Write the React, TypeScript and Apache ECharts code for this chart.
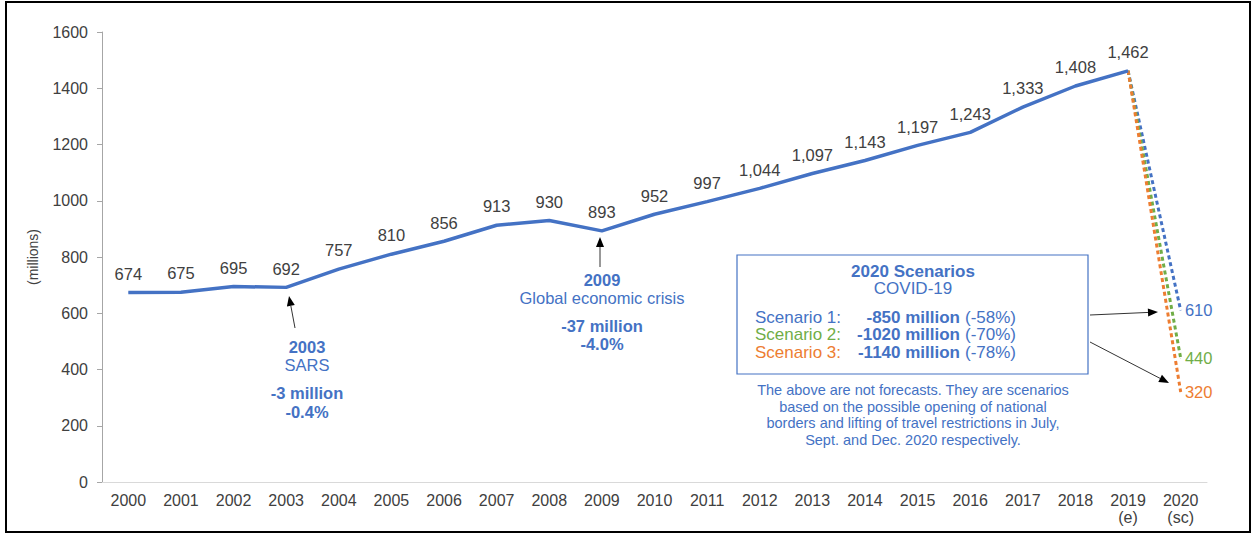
import React, { useEffect, useRef } from "react";
import * as echarts from "echarts";

const categories = ["2000","2001","2002","2003","2004","2005","2006","2007","2008","2009","2010","2011","2012","2013","2014","2015","2016","2017","2018","2019\n(e)","2020\n(sc)"];
const arrivals = [674,675,695,692,757,810,856,913,930,893,952,997,1044,1097,1143,1197,1243,1333,1408,1462];
const scenarioNames = ["Scenario 1", "Scenario 2", "Scenario 3"];
const scenarioValues = [610, 440, 320];
const scenarioColors = ["#4472C4", "#70AD47", "#ED7D31"];
const scenarioChange = ["-850 million", "-1020 million", "-1140 million"];
const scenarioPct = ["(-58%)", "(-70%)", "(-78%)"];
const yTicks = { min: 0, max: 1600, interval: 200 };

const BLUE = "#4472C4";
const FONT = "Liberation Sans, Arial, sans-serif";
const GREY = "#404040";

function arrow(x1: number, y1: number, x2: number, y2: number, headLen = 10, headW = 4) {
  const dx = x2 - x1, dy = y2 - y1;
  const len = Math.sqrt(dx * dx + dy * dy);
  const ux = dx / len, uy = dy / len;
  const bx = x2 - ux * headLen, by = y2 - uy * headLen;
  const px = -uy * headW, py = ux * headW;
  return [
    { type: "line", shape: { x1, y1, x2: bx, y2: by }, style: { stroke: "#333", lineWidth: 1 } },
    { type: "polygon", shape: { points: [[x2, y2], [bx + px, by + py], [bx - px, by - py]] }, style: { fill: "#000" } },
  ];
}

function txt(x: number, y: number, text: string, opts: any = {}) {
  return {
    type: "text",
    x, y,
    style: {
      text,
      font: `${opts.bold ? "bold " : ""}${opts.size || 16.5}px ${FONT}`,
      fill: opts.color || BLUE,
      align: opts.align || "center",
      verticalAlign: "middle",
    },
  };
}

export default function App() {
  const ref = useRef<HTMLDivElement>(null);
  useEffect(() => {
    document.body.style.margin = "0";
    const chart = echarts.init(ref.current!, null, { renderer: "svg" });
    const n = categories.length;
    const mainData = categories.map((_, i) => (i < arrivals.length ? arrivals[i] : "-"));
    const scenarioSeries = scenarioValues.map((v, k) => ({
      type: "line",
      name: scenarioNames[k],
      data: categories.map((_, i) =>
        i === arrivals.length - 1
          ? arrivals[i]
          : i === n - 1
          ? { value: v, label: { show: true, position: "right", distance: 4, color: scenarioColors[k], fontSize: 16.5, fontFamily: FONT, opacity: 1 } }
          : "-"
      ),
      showSymbol: true,
      symbol: "circle",
      symbolSize: 0.5,
      lineStyle: { color: scenarioColors[k], width: 3, type: [4, 3] },
      itemStyle: { color: scenarioColors[k] },
      z: 2 + k,
      label: { show: false },
    }));

    const graphic: any[] = [];
    graphic.push({ type: "rect", shape: { x: 6, y: 2, width: 1244, height: 530 }, style: { fill: "none", stroke: "#000", lineWidth: 2 } });
    // 2003 annotation
    graphic.push(...arrow(295, 328, 289, 296));
    graphic.push(txt(307, 347, "2003", { bold: true }));
    graphic.push(txt(307, 365, "SARS"));
    graphic.push(txt(307, 393, "-3 million", { bold: true }));
    graphic.push(txt(307, 412, "-0.4%", { bold: true }));
    // 2009 annotation
    graphic.push(...arrow(600, 267, 600, 237));
    graphic.push(txt(602, 280, "2009", { bold: true }));
    graphic.push(txt(602, 298, "Global economic crisis"));
    graphic.push(txt(602, 326, "-37 million", { bold: true }));
    graphic.push(txt(602, 344, "-4.0%", { bold: true }));
    // scenario box
    graphic.push({ type: "rect", shape: { x: 737, y: 255, width: 351, height: 119 }, style: { fill: "#fff", stroke: BLUE, lineWidth: 1.2 } });
    graphic.push(txt(913, 271, "2020 Scenarios", { bold: true, size: 17 }));
    graphic.push(txt(913, 288, "COVID-19", { size: 17 }));
    scenarioNames.forEach((nm, k) => {
      const y = 317 + k * 17.5;
      graphic.push(txt(755, y, nm + ":", { align: "left", color: scenarioColors[k], size: 17 }));
      graphic.push(txt(960, y, scenarioChange[k], { align: "right", bold: true, size: 17 }));
      graphic.push(txt(965, y, scenarioPct[k], { align: "left", size: 17 }));
    });
    const note = [
      "The above are not forecasts. They are scenarios",
      "based on the possible opening of national",
      "borders and lifting of travel restrictions in July,",
      "Sept. and Dec. 2020 respectively.",
    ];
    note.forEach((l, i) => graphic.push(txt(913, 390 + i * 16.5, l, { size: 14.5 })));
    graphic.push(...arrow(1090, 315, 1158, 312));
    graphic.push(...arrow(1090, 342, 1169, 383));

    chart.setOption({
      animation: false,
      backgroundColor: "#fff",
      grid: { left: 102, right: 48, top: 32, bottom: 54 },
      xAxis: {
        type: "category",
        data: categories,
        boundaryGap: true,
        axisLine: { lineStyle: { color: "#D9D9D9", width: 1 } },
        axisTick: { show: false },
        axisLabel: { color: GREY, fontSize: 16, fontFamily: FONT, margin: 10, lineHeight: 17, interval: 0 },
      },
      yAxis: {
        type: "value",
        ...yTicks,
        name: "(millions)",
        nameLocation: "middle",
        nameGap: 62,
        nameRotate: 90,
        nameTextStyle: { color: GREY, fontSize: 14, fontFamily: FONT },
        axisLine: { show: true, lineStyle: { color: "#A6A6A6" } },
        axisTick: { show: true, length: 5, lineStyle: { color: "#A6A6A6" } },
        splitLine: { show: false },
        axisLabel: { color: GREY, fontSize: 16, fontFamily: FONT, margin: 14, formatter: (v: number) => String(v) },
      },
      series: [
        ...scenarioSeries,
        {
          type: "line",
          name: "International tourist arrivals",
          data: mainData,
          showSymbol: true,
          symbol: "circle",
          symbolSize: 0.5,
          lineStyle: { color: BLUE, width: 3.5 },
          itemStyle: { color: BLUE },
          z: 10,
          label: {
            show: true,
            position: "top",
            distance: 10,
            color: GREY,
            fontSize: 16.5,
            fontFamily: FONT,
            opacity: 1,
            formatter: (p: any) => Number(p.value).toLocaleString("en-US"),
          },
        },
      ],
      graphic,
    });
    return () => chart.dispose();
  }, []);
  return <div ref={ref} style={{ width: 1255, height: 536, position: "fixed", left: 0, top: 0 }} />;
}
